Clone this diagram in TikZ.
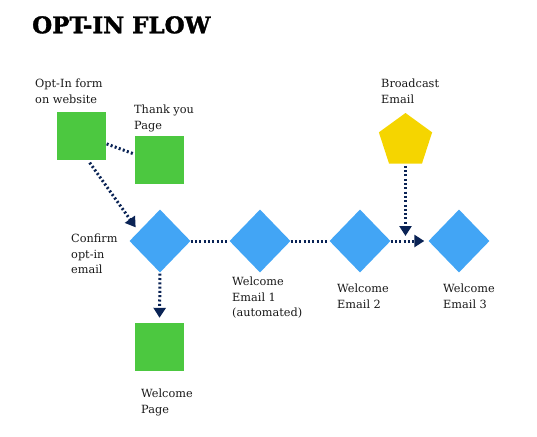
\documentclass[tikz,border=0pt]{standalone}
\usepackage{fontspec}
\setmainfont{DejaVu Serif}
\newfontfamily\titlefont[FakeBold=1.5]{DejaVu Serif Bold}
\usetikzlibrary{shapes.geometric,arrows.meta}
\definecolor{boxgreen}{RGB}{76,200,64}
\definecolor{diablue}{RGB}{66,165,245}
\definecolor{penyellow}{RGB}{245,213,0}
\definecolor{navy}{RGB}{10,35,85}
\definecolor{txt}{RGB}{25,25,25}
\tikzset{
  greenbox/.style={rectangle,fill=boxgreen,draw=none,minimum width=49pt,minimum height=48pt,inner sep=0},
  bluedia/.style={diamond,fill=diablue,draw=none,minimum width=61pt,minimum height=63pt,inner sep=0},
  bcpent/.style={regular polygon,regular polygon sides=5,fill=penyellow,draw=none,minimum size=56pt,inner sep=0},
  lbl/.style={anchor=north west,inner sep=0,align=left,text=txt,font=\fontsize{11.3}{15.5}\selectfont},
  conn/.style={draw=navy,line width=3pt,dash pattern=on 2pt off 2.3pt},
  arr/.style={conn,-{Triangle[length=10pt,width=12pt]}}
}
\begin{document}
\begin{tikzpicture}[x=1pt,y=-1pt]
\useasboundingbox (0,0) rectangle (537,436);
\node[anchor=north west,inner sep=0,font=\fontsize{23}{26}\titlefont] (title) at (32,16) {OPT-IN FLOW};

\node[greenbox] (opt) at (81,136) {};
\node[greenbox] (thank) at (159.5,159.5) {};
\node[greenbox] (wp) at (159.5,347) {};
\node[bluedia] (confirm) at (160,241) {};
\node[bluedia] (e1) at (260,241) {};
\node[bluedia] (e2) at (360,241) {};
\node[bluedia] (e3) at (459,241) {};
\node[bcpent] (bc) at (405.5,141) {};

\node[lbl] (optl) at (35,79) {Opt-In form\\on website};
\node[lbl] (thankl) at (134,105) {Thank you\\Page};
\node[lbl] (bcl) at (381,79) {Broadcast\\Email};
\node[lbl] (confirml) at (71,234) {Confirm\\opt-in\\email};
\node[lbl] (e1l) at (232,277) {Welcome\\Email 1\\(automated)};
\node[lbl] (e2l) at (337,284) {Welcome\\Email 2};
\node[lbl] (e3l) at (443,284) {Welcome\\Email 3};
\node[lbl] (wpl) at (141,389) {Welcome\\Page};

\draw[conn,shorten <=1pt,shorten >=1pt] (opt.-17) -- (thank.168);
\draw[arr,shorten <=3pt,shorten >=5pt] (opt.-74) -- (confirm.156);
\draw[conn] (confirm.east) -- (e1.west);
\draw[conn] (e1.west -| e1.east) -- (e2.west);
\draw[arr,shorten >=4pt] (e2.east) -- (e3.west);
\draw[arr,shorten <=2pt,shorten >=5pt] (bc.south) -- (bc.south |- e2.east);
\draw[arr,shorten <=1pt,shorten >=5pt] (confirm.south) -- (wp.north);
\end{tikzpicture}
\end{document}
